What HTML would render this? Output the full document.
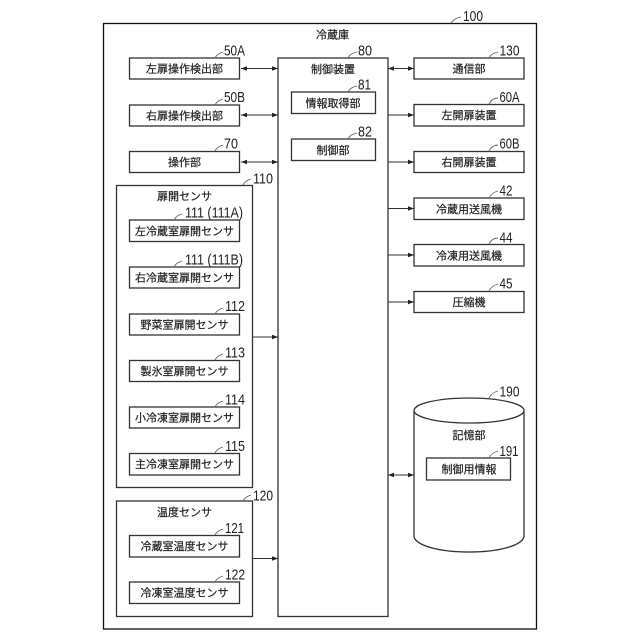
<!DOCTYPE html>
<html><head><meta charset="utf-8"><style>
html,body{margin:0;padding:0;background:#fff}
svg{display:block}
.b{fill:none;stroke:#333;stroke-width:1.3}
.l{fill:none;stroke:#666;stroke-width:.9}
.c{fill:none;stroke:#333;stroke-width:1}
text{font-family:"Liberation Sans","Noto Sans CJK JP",sans-serif;fill:#222}
.t{font-size:11px;text-anchor:middle;stroke:#222;stroke-width:.2}
.n{font-size:15px;fill:#222}
</style></head><body>
<svg width="640" height="640" viewBox="0 0 640 640" xmlns="http://www.w3.org/2000/svg">
<defs>
<marker id="a" viewBox="0 0 6 6" refX="6" refY="3" markerWidth="6" markerHeight="6" markerUnits="userSpaceOnUse" orient="auto-start-reverse"><path d="M0 .8L6 3L0 5.2z" fill="#222"/></marker>
</defs>
<rect class="b" x="103.5" y="23.5" width="433" height="605.5" style="stroke:#111"/>
<rect class="b" x="129.5" y="58" width="110" height="21"/>
<rect class="b" x="129.5" y="105" width="110" height="21"/>
<rect class="b" x="129.5" y="151.5" width="110" height="21"/>
<rect class="b" x="116.5" y="185.5" width="136" height="302"/>
<rect class="b" x="129.5" y="220" width="110" height="21.5"/>
<rect class="b" x="129.5" y="267" width="110" height="21"/>
<rect class="b" x="129.5" y="314" width="110" height="21"/>
<rect class="b" x="129.5" y="360.5" width="110" height="21"/>
<rect class="b" x="129.5" y="407" width="110" height="21"/>
<rect class="b" x="129.5" y="453.5" width="110" height="21.5"/>
<rect class="b" x="116.5" y="501" width="136" height="115.5"/>
<rect class="b" x="129.5" y="535.5" width="110" height="21.5"/>
<rect class="b" x="129.5" y="582" width="110" height="21.5"/>
<rect class="b" x="278" y="58" width="110" height="558.5"/>
<rect class="b" x="291.5" y="92" width="84" height="21.5"/>
<rect class="b" x="291.5" y="139" width="84" height="21.5"/>
<rect class="b" x="414" y="58" width="110" height="21"/>
<rect class="b" x="414" y="104.5" width="110" height="21.5"/>
<rect class="b" x="414" y="151.5" width="110" height="21"/>
<rect class="b" x="414" y="198" width="110" height="21.5"/>
<rect class="b" x="414" y="244.5" width="110" height="21.5"/>
<rect class="b" x="414" y="291.5" width="110" height="21"/>
<path class="b" d="M414 411V537M524 411V537"/>
<ellipse class="b" cx="469" cy="410.5" rx="55" ry="12.5"/>
<path class="b" d="M414 537C417 546 440 552 469 552C498 552 521 546 524 537"/>
<rect class="b" x="426.5" y="458" width="84" height="22"/>

<path class="c" d="M241 68.5H278" marker-start="url(#a)" marker-end="url(#a)"/>
<path class="c" d="M241 115H278" marker-start="url(#a)" marker-end="url(#a)"/>
<path class="c" d="M241 162H278" marker-start="url(#a)" marker-end="url(#a)"/>
<path class="c" d="M252.500 337H278" marker-end="url(#a)"/>
<path class="c" d="M252.500 558.500H278" marker-end="url(#a)"/>
<path class="c" d="M388 68.500H414" marker-start="url(#a)" marker-end="url(#a)"/>
<path class="c" d="M388 115H414" marker-end="url(#a)"/>
<path class="c" d="M388 162H414" marker-end="url(#a)"/>
<path class="c" d="M388 208.500H414" marker-end="url(#a)"/>
<path class="c" d="M388 255H414" marker-end="url(#a)"/>
<path class="c" d="M388 302H414" marker-end="url(#a)"/>
<path class="c" d="M388 475H414" marker-start="url(#a)" marker-end="url(#a)"/>

<text class="t" x="332.500" y="38.500">冷蔵庫</text>
<text class="t" x="184.500" y="72.500">左扉操作検出部</text>
<text class="t" x="184.500" y="119.500">右扉操作検出部</text>
<text class="t" x="184.500" y="166">操作部</text>
<text class="t" x="184.500" y="200">扉開センサ</text>
<text class="t" x="184.500" y="235">左冷蔵室扉開センサ</text>
<text class="t" x="184.500" y="281.500">右冷蔵室扉開センサ</text>
<text class="t" x="184.500" y="328.500">野菜室扉開センサ</text>
<text class="t" x="184.500" y="375">製氷室扉開センサ</text>
<text class="t" x="184.500" y="421.500">小冷凍室扉開センサ</text>
<text class="t" x="184.500" y="468">主冷凍室扉開センサ</text>
<text class="t" x="184.500" y="516">温度センサ</text>
<text class="t" x="184.500" y="550">冷蔵室温度センサ</text>
<text class="t" x="184.500" y="596.500">冷凍室温度センサ</text>
<text class="t" x="333" y="73">制御装置</text>
<text class="t" x="333" y="107">情報取得部</text>
<text class="t" x="333" y="154">制御部</text>
<text class="t" x="469" y="72.500">通信部</text>
<text class="t" x="469" y="119">左開扉装置</text>
<text class="t" x="469" y="166">右開扉装置</text>
<text class="t" x="469" y="213">冷蔵用送風機</text>
<text class="t" x="469" y="259.500">冷凍用送風機</text>
<text class="t" x="469" y="306">圧縮機</text>
<text class="t" x="469" y="439">記憶部</text>
<text class="t" x="469" y="473">制御用情報</text>

<path class="l" d="M451 23C454 19 457 18 461 17"/>
<text class="n" x="463" y="21" textLength="20" lengthAdjust="spacingAndGlyphs">100</text>
<path class="l" d="M215 58C217 54 220 53 223 52"/>
<text class="n" x="224" y="55.400" textLength="21" lengthAdjust="spacingAndGlyphs">50A</text>
<path class="l" d="M215 105C217 101 220 100 223 99"/>
<text class="n" x="224" y="102" textLength="21" lengthAdjust="spacingAndGlyphs">50B</text>
<path class="l" d="M215 151C217 147 220 146 223 145"/>
<text class="n" x="224" y="148.700" textLength="14" lengthAdjust="spacingAndGlyphs">70</text>
<path class="l" d="M243 185C245 181 248 180 251 179"/>
<text class="n" x="253" y="183.400" textLength="20" lengthAdjust="spacingAndGlyphs">110</text>
<path class="l" d="M174 220C176 216 179 215 182 214"/>
<text class="n" x="185" y="217.700" textLength="58" lengthAdjust="spacingAndGlyphs">111 (111A)</text>
<path class="l" d="M174 267C176 263 179 262 182 261"/>
<text class="n" x="185" y="264.400" textLength="58" lengthAdjust="spacingAndGlyphs">111 (111B)</text>
<path class="l" d="M215 314C217 310 220 309 223 308"/>
<text class="n" x="225" y="311" textLength="20" lengthAdjust="spacingAndGlyphs">112</text>
<path class="l" d="M215 360C217 356 220 355 223 354"/>
<text class="n" x="225" y="357.700" textLength="20" lengthAdjust="spacingAndGlyphs">113</text>
<path class="l" d="M215 407C217 403 220 402 223 401"/>
<text class="n" x="225" y="404.400" textLength="20" lengthAdjust="spacingAndGlyphs">114</text>
<path class="l" d="M215 453C217 449 220 448 223 447"/>
<text class="n" x="225" y="451" textLength="20" lengthAdjust="spacingAndGlyphs">115</text>
<path class="l" d="M243 501C245 497 248 496 251 495"/>
<text class="n" x="253" y="500.400" textLength="20" lengthAdjust="spacingAndGlyphs">120</text>
<path class="l" d="M215 535C217 531 220 530 223 529"/>
<text class="n" x="225" y="533" textLength="19" lengthAdjust="spacingAndGlyphs">121</text>
<path class="l" d="M215 582C217 578 220 577 223 576"/>
<text class="n" x="225" y="579.400" textLength="20" lengthAdjust="spacingAndGlyphs">122</text>
<path class="l" d="M348 58C350 54 353 53 357 52"/>
<text class="n" x="358" y="55.400" textLength="14" lengthAdjust="spacingAndGlyphs">80</text>
<path class="l" d="M348 92C350 88 353 87 357 86"/>
<text class="n" x="358" y="89.700" textLength="13" lengthAdjust="spacingAndGlyphs">81</text>
<path class="l" d="M348 139C350 135 353 134 357 133"/>
<text class="n" x="358" y="136.400" textLength="14" lengthAdjust="spacingAndGlyphs">82</text>
<path class="l" d="M489 58C491 54 494 53 498 52"/>
<text class="n" x="499.500" y="55.400" textLength="20" lengthAdjust="spacingAndGlyphs">130</text>
<path class="l" d="M489 104C491 100 494 98 498 98"/>
<text class="n" x="499.500" y="102" textLength="20" lengthAdjust="spacingAndGlyphs">60A</text>
<path class="l" d="M489 151C491 147 494 145 498 145"/>
<text class="n" x="499.500" y="148.700" textLength="20" lengthAdjust="spacingAndGlyphs">60B</text>
<path class="l" d="M489 198C491 194 494 192 498 191"/>
<text class="n" x="499.500" y="195.400" textLength="13" lengthAdjust="spacingAndGlyphs">42</text>
<path class="l" d="M489 244C491 240 494 238 498 238"/>
<text class="n" x="499.500" y="242.400" textLength="13" lengthAdjust="spacingAndGlyphs">44</text>
<path class="l" d="M489 291C491 287 494 285 498 284"/>
<text class="n" x="499.500" y="288.700" textLength="13" lengthAdjust="spacingAndGlyphs">45</text>
<path class="l" d="M489 398C491 394 494 392 498 391"/>
<text class="n" x="499.500" y="396.400" textLength="20" lengthAdjust="spacingAndGlyphs">190</text>
<path class="l" d="M489 458C491 454 494 452 498 451"/>
<text class="n" x="499.500" y="456" textLength="19" lengthAdjust="spacingAndGlyphs">191</text>
</svg>
</body></html>
